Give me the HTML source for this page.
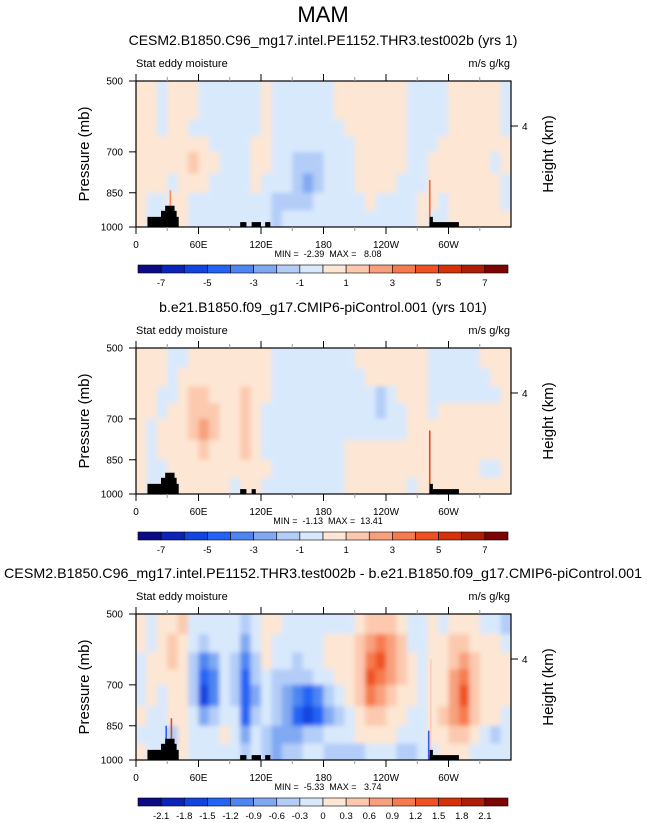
<!DOCTYPE html>
<html><head><meta charset="utf-8"><style>
html,body{margin:0;padding:0;background:#fff}
svg{display:block;font-family:"Liberation Sans",sans-serif}
text{white-space:pre}
</style></head><body>
<svg id="fig" width="647" height="823" viewBox="0 0 647 823" xmlns="http://www.w3.org/2000/svg">
<defs><filter id="sm" x="-5%" y="-5%" width="110%" height="110%"><feGaussianBlur stdDeviation="2.4"/></filter></defs>
<text x="323" y="22" font-size="22" text-anchor="middle">MAM</text>
</svg>
<script>
const levelBounds=[500,550,600,650,700,775,850,925,1000];
const lonStep=10;
const abs1Bounds=[-7,-6,-5,-4,-3,-2,-1,0,1,2,3,4,5,6,7];
const abs1Labels=["-7","-5","-3","-1","1","3","5","7"];
const diffBounds=[-2.1,-1.8,-1.5,-1.2,-0.9,-0.6,-0.3,0,0.3,0.6,0.9,1.2,1.5,1.8,2.1];
const diffLabels=["-2.1","-1.8","-1.5","-1.2","-0.9","-0.6","-0.3","0","0.3","0.6","0.9","1.2","1.5","1.8","2.1"];
const palette=["#0b0b85","#0a24b8","#1244e0","#2464f5","#4d86f2","#80a9f2","#b3cdf8","#d9e9fc","#fde6d3","#fcc9ae","#f8a07e","#f77a4e","#ef5220","#d6320a","#ae1e06","#7e0404"];
const xTickLons=[0,60,120,180,240,300];
const xTickLabels=["0","60E","120E","180","120W","60W"];
const pTicks=[500,700,850,1000];
const p=0.5,n=-0.5;
const field1=[
[p,p,n,p,p,p,n,n,n,n,n,n,p,n,n,n,n,n,n,p,p,p,p,p,p,p,n,n,n,n,p,p,p,p,p,n],
[p,p,n,p,p,p,n,n,n,n,n,n,p,n,n,n,n,n,n,p,p,p,p,p,p,p,n,n,n,n,p,p,p,p,p,n],
[p,p,n,p,p,n,n,n,n,n,n,n,p,n,n,n,n,n,n,n,p,p,p,p,p,p,n,n,n,n,p,p,p,p,p,n],
[p,p,p,p,p,p,p,n,n,n,n,p,p,n,n,n,n,n,n,n,n,p,p,p,p,p,n,n,n,p,p,p,p,p,p,p],
[p,p,p,p,p,1.5,p,p,n,n,n,p,p,n,n,-1.5,-1.5,-1.5,n,n,n,p,p,p,p,p,n,n,p,p,p,p,p,p,n,p],
[p,p,p,n,p,p,p,n,n,n,n,p,n,n,n,-1.5,-2.5,-1.5,n,n,n,p,p,p,p,n,n,n,p,p,p,p,p,p,p,n],
[p,n,n,p,p,n,n,n,n,n,n,n,n,-1.5,-1.5,-1.5,-1.5,n,n,n,n,n,p,n,n,n,n,p,p,n,p,p,p,p,p,n],
[p,n,n,p,p,n,n,n,n,n,n,n,n,-1.5,n,n,n,n,n,n,n,n,n,n,n,n,n,p,n,n,p,p,p,p,p,p]];
const field2=[
[p,p,p,n,n,p,p,p,p,p,p,p,p,n,n,n,n,n,n,n,n,p,p,p,p,p,p,p,n,n,n,n,n,p,p,p],
[p,p,p,n,p,p,p,p,p,p,p,p,p,n,n,n,n,n,n,n,n,n,p,p,p,p,p,p,n,n,n,n,n,n,p,p],
[p,p,n,n,p,1.5,1.5,p,p,p,1.5,p,p,n,n,n,n,n,n,n,n,n,n,-1.5,n,p,p,p,n,n,n,n,n,n,n,p],
[p,p,n,p,p,1.5,1.5,1.5,p,p,1.5,p,n,n,n,n,n,n,n,n,n,n,n,-1.5,n,n,p,p,n,p,p,p,p,p,p,p],
[p,n,p,p,p,1.5,2.5,1.5,p,p,1.5,p,n,n,n,n,n,n,n,n,n,n,n,n,n,n,p,p,p,p,p,p,p,p,p,p],
[p,n,p,p,p,p,1.5,p,p,p,1.5,p,n,n,n,n,n,n,n,n,p,p,p,p,p,p,p,p,p,p,p,p,p,p,p,p],
[p,n,n,p,p,p,p,p,p,p,p,p,p,n,n,n,n,n,n,n,p,p,p,p,p,p,p,p,p,p,p,p,p,n,n,p],
[p,n,n,p,p,p,p,p,p,n,p,p,n,n,n,n,n,n,n,n,p,p,p,p,p,p,n,p,p,p,p,p,p,p,p,p]];
const field3=[
[.15,-.15,.15,.15,.45,-.15,-.15,-.15,-.15,-.15,-.45,-.15,.15,.15,-.15,-.15,-.15,-.15,-.15,-.15,-.15,.15,.45,.45,.45,.15,-.15,-.15,.15,-.15,.15,.15,.15,-.15,-.15,-.45],
[.15,-.15,.15,.45,.15,-.15,-.45,-.15,-.15,-.15,-.75,-.15,.15,-.15,-.15,-.15,-.15,-.15,.15,.15,.15,.45,.75,1.05,.75,.45,-.15,-.15,.15,.15,.45,.45,.15,.15,.15,-.15],
[-.15,.15,.15,.45,.15,-.45,-1.05,-.75,-.15,-.45,-1.05,-.45,.15,-.15,-.15,-.45,-.15,-.15,.15,.15,.15,.45,1.05,1.35,.75,.45,.15,-.15,.15,.15,.45,.75,.45,.15,.15,.15],
[-.15,.15,.15,.15,.15,-.45,-1.35,-1.05,-.15,-.45,-1.35,-.45,-.15,-.45,-.45,-.45,-.45,-.15,-.15,.15,.15,.45,1.35,1.05,.75,.45,.15,-.15,.15,.15,.75,1.05,.45,.15,.15,.15],
[-.15,.15,-.15,.15,.15,-.45,-1.65,-1.05,-.15,-.45,-1.35,-.75,-.15,-.45,-.75,-1.05,-1.35,-1.05,-.45,-.15,.15,.45,1.05,.75,.45,.15,.15,-.15,.15,.15,.75,1.35,.45,.15,.15,.15],
[.15,-.15,-.15,.15,.15,-.15,-.75,-.45,-.15,-.15,-1.35,-.45,-.15,-.45,-.75,-1.35,-1.65,-1.35,-.75,-.45,-.15,.15,.45,.45,.15,.15,-.15,-.15,.15,.45,.75,1.05,.45,.15,.15,-.15],
[-.15,-.15,-.15,-.45,.15,-.15,-.15,-.15,.15,-.15,-.75,-.15,-.45,-.75,-.75,-.75,-.45,-.45,-.15,-.15,-.15,.15,.15,.15,.15,-.15,-.15,-.15,.15,.15,.45,.45,.15,-.15,-.45,-.15],
[.15,-.15,-.15,-.15,.15,-.15,-.15,-.15,-.15,-.15,-.45,-.15,-.45,-.75,-.45,-.45,-.15,-.15,-.45,-.45,-.45,-.45,-.15,-.15,-.15,-.45,-.45,-.15,-.15,.15,.15,.15,-.15,-.15,-.15,-.15]];
const spikes1Lon=[33,282],spikes1Top=[840,800],spikes1Val=[3.5,4.5];
const spikes2Lon=[282],spikes2Top=[740],spikes2Val=[5.5];
const spikes3Lon=[29,34,281,283],spikes3Top=[850,820,870,620],spikes3Val=[-1.7,1.7,-1.7,0.45];
const terr1Start=[11,24,28,100,111,124,282,282],terr1End=[41,39,37,106,120,129,310,285],terr1Top=[953,926,904,977,977,977,977,953];
const terr2Start=[11,24,28,100,111,282,282],terr2End=[41,39,37,106,115,310,285],terr2Top=[953,926,904,977,977,977,953];

const NS="http://www.w3.org/2000/svg";
const svg=document.getElementById('fig');
function el(tag,attrs,parent){const e=document.createElementNS(NS,tag);for(const k in attrs)e.setAttribute(k,attrs[k]);(parent||svg).appendChild(e);return e;}
const X0=136,X1=511,H=146;
function xs(lon){return X0+(X1-X0)*lon/360;}
function ys(top,pr){return top+H*Math.log(pr/500)/Math.log(2);}
function colorFor(v,b){let i=0;while(i<b.length&&v>b[i])i++;return palette[i];}

function panel(top,title,titleLen,field,bounds,blabels,sLon,sTop,sVal,tS,tE,tT,minmax){
  const g=el('g',{});
  
  
  let t=el('text',{x:323,y:top-36,'font-size':14,'text-anchor':'middle'},g);
  if(titleLen){t.setAttribute('textLength',titleLen);t.setAttribute('lengthAdjust','spacingAndGlyphs');}
  t.textContent=title;
  
  
  t=el('text',{x:X0,y:top-14,'font-size':11},g);t.textContent='Stat eddy moisture';
  
  
  t=el('text',{x:X1-1,y:top-14,'font-size':11,'text-anchor':'end'},g);t.textContent='m/s g/kg';
  
  
  const cid='clip'+top;
  const cp=el('clipPath',{id:cid},g);el('rect',{x:X0,y:top,width:X1-X0,height:H},cp);
  const outer=el('g',{'clip-path':'url(#'+cid+')'},g);
  const fg=el('g',{filter:'url(#sm)'},outer);
  
  
  el('rect',{x:X0-5,y:top-5,width:X1-X0+10,height:H+10,fill:palette[7]},fg);
  for(let r=0;r<field.length;r++){
    const y0=ys(top,levelBounds[r]),y1=ys(top,levelBounds[r+1]);
    for(let c=0;c<field[r].length;c++){
      let x0=xs(c*lonStep),x1=xs((c+1)*lonStep);
      if(c===0)x0-=5;if(c===field[r].length-1)x1+=5;
      let ya=r===0?y0-5:y0,yb=r===field.length-1?y1+5:y1;
      const cell=el('rect',{x:x0,y:ya,width:x1-x0+0.6,height:yb-ya+0.6,fill:colorFor(field[r][c],bounds)},fg);
      
      
    }
  }
  for(let i=0;i<sLon.length;i++){
    const sp=el('rect',{x:xs(sLon[i])-0.8,y:ys(top,sTop[i]),width:1.6,height:ys(top,1000)-ys(top,sTop[i]),fill:colorFor(sVal[i],bounds),opacity:0.85},outer);
    
    
  }
  for(let i=0;i<tS.length;i++){
    const tr=el('rect',{x:xs(tS[i]),y:ys(top,tT[i]),width:xs(tE[i])-xs(tS[i]),height:ys(top,1000)-ys(top,tT[i]),fill:'#000'},outer);
    
    
  }
  const fr=el('rect',{x:X0,y:top,width:X1-X0,height:H,fill:'none',stroke:'#000','stroke-width':1.2},g);
  
  
  for(let lon=0;lon<=330;lon+=30){
    const maj=lon%60===0,len=maj?7:4,x=xs(lon);
    el('line',{x1:x,y1:top,x2:x,y2:top-len,stroke:maj?'#000':'#999','stroke-width':1},g);
    el('line',{x1:x,y1:top+H,x2:x,y2:top+H+len,stroke:maj?'#000':'#999','stroke-width':1},g);
  }
  for(let i=0;i<xTickLons.length;i++){
    t=el('text',{x:xs(xTickLons[i]),y:top+H+21,'font-size':10,'text-anchor':'middle'},g);t.textContent=xTickLabels[i];
    
    
  }
  for(let i=0;i<pTicks.length;i++){
    const y=ys(top,pTicks[i]);
    el('line',{x1:X0,y1:y,x2:X0-7,y2:y,stroke:'#000'},g);
    t=el('text',{x:123,y:y+3.5,'font-size':10,'text-anchor':'end'},g);t.textContent=String(pTicks[i]);
    
    
  }
  el('line',{x1:X1,y1:top+45,x2:X1+7,y2:top+45,stroke:'#000'},g);
  t=el('text',{x:522,y:top+49,'font-size':10},g);t.textContent='4';
  
  
  t=el('text',{x:0,y:0,'font-size':15,'text-anchor':'middle',transform:'translate(89,'+(top+H/2)+') rotate(-90)'},g);t.textContent='Pressure (mb)';
  
  
  t=el('text',{x:0,y:0,'font-size':15,'text-anchor':'middle',transform:'translate(553,'+(top+H/2)+') rotate(-90)'},g);t.textContent='Height (km)';
  
  
  t=el('text',{x:328,y:top+H+30,'font-size':9,'text-anchor':'middle'},g);t.textContent=minmax;
  
  
  const cb=el('g',{},g);
  
  
  const cx0=138,cx1=508,cy=top+H+38,cw=(cx1-cx0)/16;
  for(let i=0;i<16;i++){
    const b=el('rect',{x:cx0+i*cw,y:cy,width:cw,height:8,fill:palette[i],stroke:'#000','stroke-width':0.6},cb);
    
    
  }
  const step=blabels.length===8?2:1;
  for(let i=0;i<blabels.length;i++){
    const bi=i*step;
    t=el('text',{x:cx0+(bi+1)*cw,y:cy+21,'font-size':9.5,'text-anchor':'middle'},cb);t.textContent=blabels[i];
    
    
  }
}
panel(81,'CESM2.B1850.C96_mg17.intel.PE1152.THR3.test002b (yrs 1)',0,field1,abs1Bounds,abs1Labels,spikes1Lon,spikes1Top,spikes1Val,terr1Start,terr1End,terr1Top,'MIN =  -2.39  MAX =   8.08');
panel(348,'b.e21.B1850.f09_g17.CMIP6-piControl.001 (yrs 101)',0,field2,abs1Bounds,abs1Labels,spikes2Lon,spikes2Top,spikes2Val,terr2Start,terr2End,terr2Top,'MIN =  -1.13  MAX =  13.41');
panel(614,'CESM2.B1850.C96_mg17.intel.PE1152.THR3.test002b - b.e21.B1850.f09_g17.CMIP6-piControl.001',638,field3,diffBounds,diffLabels,spikes3Lon,spikes3Top,spikes3Val,terr1Start,terr1End,terr1Top,'MIN =  -5.33  MAX =   3.74');
</script>
</body></html>
